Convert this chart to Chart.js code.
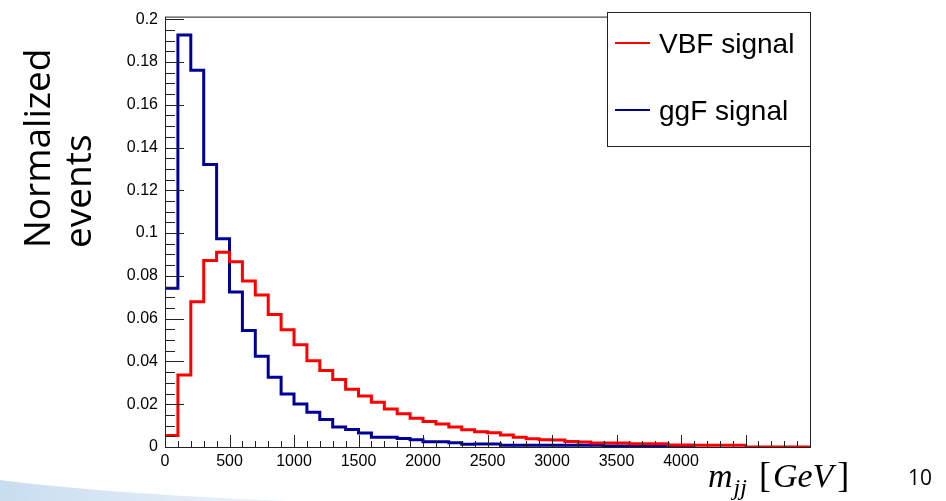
<!DOCTYPE html>
<html>
<head>
<meta charset="utf-8">
<script src="https://cdn.jsdelivr.net/npm/chart.js@4.4.1/dist/chart.umd.min.js"></script>
<style>
  html, body { margin: 0; padding: 0; background: #fff; }
</style>
</head>
<body>
<canvas id="mjjChart" width="946" height="501"></canvas>
<script>
// lower edges of the 100 GeV wide bins (0 ... 4900)
const binEdges = Array.from({ length: 50 }, (_, i) => i * 100);
const xMax = 5000;

// normalized m_jj distributions, one value per bin
const vbfSignal = [
  0.0054, 0.0336, 0.0679, 0.0872, 0.0910, 0.0866, 0.0776, 0.0711, 0.0619, 0.0548,
  0.0478, 0.0403, 0.0358, 0.0316, 0.0270, 0.0238, 0.0209, 0.0178, 0.0155, 0.0134,
  0.0119, 0.0107, 0.0094, 0.0081, 0.0071, 0.0067, 0.0056, 0.0046, 0.0039, 0.0034,
  0.0033, 0.0026, 0.0023, 0.0019, 0.0019, 0.0019, 0.0015, 0.0015, 0.0015, 0.0009,
  0.0009, 0.0008, 0.0008, 0.0008, 0.0008, 0, 0, 0, 0, 0,
];
const ggfSignal = [
  0.0742, 0.1926, 0.1761, 0.1321, 0.0974, 0.0725, 0.0545, 0.0424, 0.0326, 0.0248,
  0.0201, 0.0162, 0.0128, 0.0093, 0.0082, 0.0066, 0.0046, 0.0045, 0.0040, 0.0034,
  0.0025, 0.0025, 0.0020, 0.0013, 0.0014, 0.0014, 0.0008, 0.0008, 0.0008, 0.0008,
  0.0008, 0.0008, 0.0008, 0.0008, 0.0005, 0.0005, 0.0002, 0.0002, 0.0002, 0.0002,
  0.0002, 0, null, null, null, null, null, null, null, null,
];

const yTicks = [0, 0.02, 0.04, 0.06, 0.08, 0.1, 0.12, 0.14, 0.16, 0.18, 0.2];
const xTicks = [0, 500, 1000, 1500, 2000, 2500, 3000, 3500, 4000, 4500, 5000];
const lastXLabel = 4000;

const toSteps = (values) => {
  const pts = values.map((v, i) => ({ x: binEdges[i], y: v }));
  // close the last bin at the upper edge
  pts.push({ x: xMax, y: values[values.length - 1] });
  return pts;
};

// ROOT-like frame, inward ticks, legend box and slide texts
const rootStyle = {
  id: "rootStyle",
  afterDraw(chart) {
    const { ctx, chartArea: a, scales } = chart;
    const xs = scales.x, ys = scales.y;
    ctx.save();

    // frame
    ctx.strokeStyle = "#222";
    ctx.lineWidth = 1;
    ctx.strokeRect(a.left + 0.5, a.top + 0.5, a.right - a.left, a.bottom - a.top);

    // y ticks, minor every 0.005
    ctx.beginPath();
    for (let i = 0; i <= 40; i++) {
      const py = Math.round(ys.getPixelForValue(i * 0.005)) + 0.5;
      const len = i % 4 === 0 ? 19 : 10;
      ctx.moveTo(a.left, py);
      ctx.lineTo(a.left + len, py);
    }
    // x ticks, minor every 100
    for (let i = 0; i <= 50; i++) {
      const px = Math.round(xs.getPixelForValue(i * 100)) + 0.5;
      const len = i % 5 === 0 ? 12 : 6;
      ctx.moveTo(px, a.bottom);
      ctx.lineTo(px, a.bottom - len);
    }
    ctx.stroke();

    // legend
    const lx = 607, ly = 12, lw = 203, lh = 134;
    ctx.fillStyle = "#fff";
    ctx.fillRect(lx, ly, lw, lh);
    ctx.strokeStyle = "#222";
    ctx.strokeRect(lx + 0.5, ly + 0.5, lw, lh);
    const rows = [53, 120];
    chart.data.datasets.forEach((ds, k) => {
      ctx.strokeStyle = ds.borderColor;
      ctx.lineWidth = 2;
      ctx.beginPath();
      ctx.moveTo(615, rows[k] - 10);
      ctx.lineTo(650, rows[k] - 10);
      ctx.stroke();
      ctx.fillStyle = "#000";
      ctx.font = '28px "Liberation Sans"';
      ctx.textBaseline = "alphabetic";
      ctx.fillText(ds.label, 659, rows[k]);
    });

    // y title
    ctx.fillStyle = "#000";
    ctx.font = '37px "Open Sans"';
    ctx.textAlign = "left";
    [["Normalized", 50], ["events", 91]].forEach(([t, bx]) => {
      ctx.save();
      ctx.translate(bx, 248);
      ctx.rotate(-Math.PI / 2);
      ctx.fillText(t, 0, 0);
      ctx.restore();
    });

    // x title: m_jj [GeV]
    let cx = 708;
    const base = 487;
    ctx.font = 'italic 34px "Liberation Serif"';
    ctx.fillText("m", cx, base);
    cx += ctx.measureText("m").width + 1;
    ctx.font = 'italic 24px "Liberation Serif"';
    ctx.fillText("jj", cx, base + 8);
    cx += ctx.measureText("jj").width + 12;
    ctx.font = '36px "Liberation Serif"';
    ctx.fillText("[", cx, base);
    cx += ctx.measureText("[").width + 2;
    ctx.font = 'italic 34px "Liberation Serif"';
    ctx.fillText("GeV", cx, base);
    cx += ctx.measureText("GeV").width + 4;
    ctx.font = '36px "Liberation Serif"';
    ctx.fillText("]", cx, base);

    // slide number
    ctx.font = '21px "Open Sans"';
    ctx.fillText("10", 908, 485);

    // slide swoosh bottom left
    const g = ctx.createLinearGradient(0, 0, 290, 0);
    g.addColorStop(0, "#c9ddf0");
    g.addColorStop(1, "#eef4fa");
    ctx.fillStyle = g;
    ctx.beginPath();
    ctx.moveTo(0, 480);
    ctx.quadraticCurveTo(110, 494, 290, 501);
    ctx.lineTo(0, 501);
    ctx.closePath();
    ctx.fill();

    ctx.restore();
  },
};

const data = {
  datasets: [
    {
      label: "VBF signal",
      data: toSteps(vbfSignal),
      borderColor: "#ff0000",
      borderWidth: 3,
      stepped: "before",
      pointRadius: 0,
      fill: false,
    },
    {
      label: "ggF signal",
      data: toSteps(ggfSignal),
      borderColor: "#000099",
      borderWidth: 3,
      stepped: "before",
      pointRadius: 0,
      fill: false,
    },
  ],
};

const tickFont = { family: "Liberation Sans", size: 16 };

const config = {
  type: "line",
  data: data,
  options: {
    responsive: false,
    animation: false,
    devicePixelRatio: 1,
    layout: { padding: { top: 13, right: 136, left: 0, bottom: 0 } },
    plugins: {
      legend: { display: false },
      tooltip: { enabled: false },
    },
    scales: {
      x: {
        type: "linear",
        min: 0,
        max: xMax,
        afterBuildTicks: (s) => {
          s.ticks = xTicks.map((v) => ({ value: v }));
        },
        afterFit: (s) => {
          s.height = 54;
        },
        ticks: {
          font: tickFont,
          color: "#000",
          padding: 5,
          maxRotation: 0,
          autoSkip: false,
          callback: (v) => (v <= lastXLabel ? String(v) : ""),
        },
        grid: { display: false, drawTicks: false },
        border: { display: false },
      },
      y: {
        min: 0,
        max: 0.2012,
        afterBuildTicks: (s) => {
          s.ticks = yTicks.map((v) => ({ value: v }));
        },
        afterFit: (s) => {
          s.width = 165;
        },
        ticks: {
          font: tickFont,
          color: "#000",
          padding: 7,
          callback: (v) => String(+v.toFixed(2)),
        },
        grid: { display: false, drawTicks: false },
        border: { display: false },
      },
    },
  },
  plugins: [rootStyle],
};

// eslint-disable-next-line no-undef
const mjjChart = new Chart(document.getElementById("mjjChart"), config);
</script>
</body>
</html>
